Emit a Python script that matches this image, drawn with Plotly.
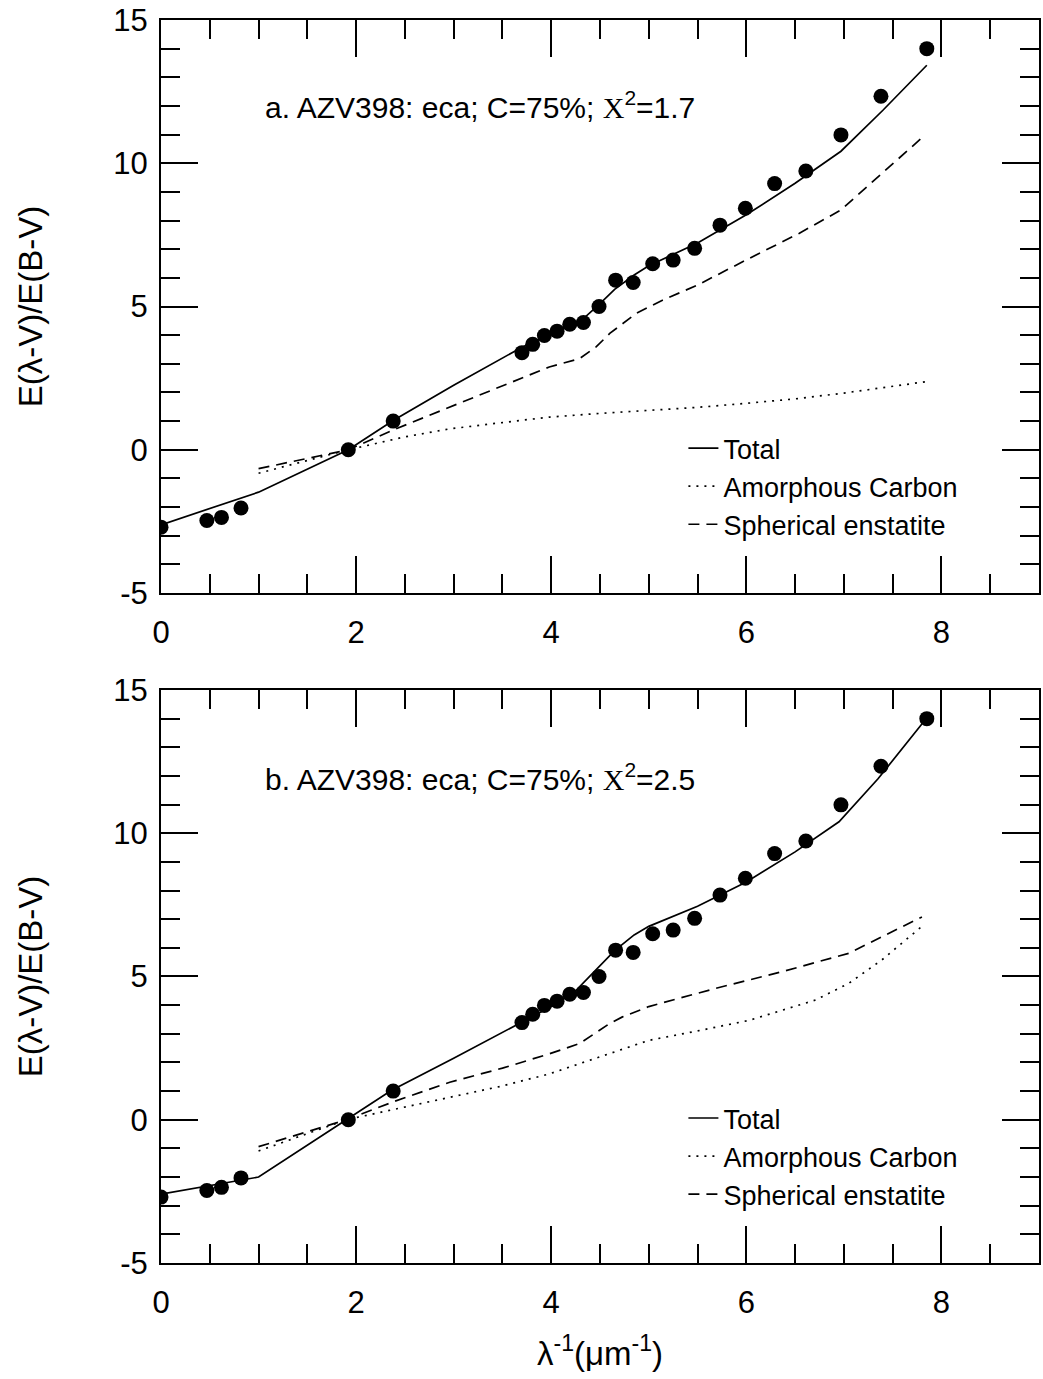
import plotly.graph_objects as go

# Observed extinction curve of AZV398 (same data in both panels)
obs_x = [0.0, 0.47, 0.62, 0.82, 1.92, 2.38, 3.70, 3.81, 3.93, 4.06, 4.19, 4.33, 4.49,
         4.66, 4.84, 5.04, 5.25, 5.47, 5.73, 5.99, 6.29, 6.61, 6.97, 7.38, 7.85]
obs_y = [-2.70, -2.47, -2.36, -2.03, 0.0, 1.0, 3.39, 3.68, 3.99, 4.14, 4.38, 4.44, 5.0,
         5.92, 5.84, 6.49, 6.62, 7.03, 7.84, 8.43, 9.29, 9.73, 10.99, 12.34, 14.0]

# Panel a model (chi^2 = 1.7)
a_total_x = [0.0, 1.0, 1.92, 2.38, 3.0, 3.7, 4.0, 4.33, 4.5, 4.65, 4.85, 5.0, 5.5, 6.0,
             6.5, 6.97, 7.4, 7.85]
a_total_y = [-2.62, -1.48, 0.0, 1.02, 2.25, 3.58, 4.05, 4.58, 5.1, 5.6, 6.1, 6.42, 7.22,
             8.2, 9.3, 10.42, 11.85, 13.42]
a_carbon_x = [1.0, 1.92, 2.5, 2.96, 3.5, 3.98, 4.5, 5.0, 5.5, 6.0, 6.54, 7.0, 7.5, 7.85]
a_carbon_y = [-0.82, 0.0, 0.45, 0.73, 0.95, 1.14, 1.27, 1.38, 1.48, 1.62, 1.79, 1.98, 2.2, 2.38]
a_enst_x = [1.0, 1.92, 2.4, 3.0, 3.64, 3.98, 4.29, 4.46, 4.6, 4.87, 5.14, 5.5, 6.03, 6.54,
            6.97, 7.82]
a_enst_y = [-0.66, 0.0, 0.72, 1.55, 2.42, 2.89, 3.18, 3.59, 4.06, 4.76, 5.22, 5.75, 6.68,
            7.55, 8.37, 10.95]

# Panel b model (chi^2 = 2.5)
b_total_x = [0.0, 1.0, 1.9, 2.36, 3.0, 3.67, 4.0, 4.25, 4.45, 4.65, 4.85, 5.0, 5.5, 6.0,
             6.5, 6.95, 7.35, 7.82]
b_total_y = [-2.6, -2.0, 0.0, 1.02, 2.15, 3.37, 3.95, 4.5, 5.2, 5.9, 6.45, 6.75, 7.45, 8.3,
             9.35, 10.4, 11.9, 13.9]
b_carbon_x = [1.0, 1.9, 2.4, 2.96, 3.5, 3.98, 4.5, 5.0, 5.5, 6.03, 6.71, 7.05, 7.39, 7.8]
b_carbon_y = [-1.09, 0.0, 0.37, 0.78, 1.18, 1.6, 2.2, 2.77, 3.1, 3.47, 4.18, 4.76, 5.58, 6.75]
b_enst_x = [1.0, 1.9, 2.4, 2.96, 3.5, 3.98, 4.29, 4.6, 4.73, 5.0, 5.69, 6.37, 7.05, 7.8]
b_enst_y = [-0.94, 0.0, 0.65, 1.31, 1.8, 2.3, 2.66, 3.36, 3.59, 3.95, 4.59, 5.17, 5.81, 7.08]

x_ticks = [0, 2, 4, 6, 8]
y_ticks = [-5, 0, 5, 10, 15]
y_ticktext = ["-5", "0", "5", "10", "15"]

panel_labels = [
    "a. AZV398: eca; C=75%; <span style='font-family:\"Liberation Serif\"'>X</span><sup>2</sup>=1.7",
    "b. AZV398: eca; C=75%; <span style='font-family:\"Liberation Serif\"'>X</span><sup>2</sup>=2.5",
]

FONT = "Liberation Sans, Arial, Helvetica, sans-serif"
DOT = "2px,6px"
DASH = "11px,7px"
LW = 1.7

fig = go.Figure()

panels = [
    ("x", "y", "legend", a_total_x, a_total_y, a_carbon_x, a_carbon_y, a_enst_x, a_enst_y),
    ("x2", "y2", "legend2", b_total_x, b_total_y, b_carbon_x, b_carbon_y, b_enst_x, b_enst_y),
]

for xa, ya, leg, tx, ty, cx, cy, ex, ey in panels:
    fig.add_trace(go.Scatter(x=obs_x, y=obs_y, mode="markers", xaxis=xa, yaxis=ya,
                             marker=dict(color="black", size=15), showlegend=False))
    fig.add_trace(go.Scatter(x=tx, y=ty, mode="lines", name="Total", legend=leg,
                             xaxis=xa, yaxis=ya, line=dict(color="black", width=LW)))
    fig.add_trace(go.Scatter(x=cx, y=cy, mode="lines", name="Amorphous Carbon", legend=leg,
                             xaxis=xa, yaxis=ya,
                             line=dict(color="black", width=LW, dash=DOT)))
    fig.add_trace(go.Scatter(x=ex, y=ey, mode="lines", name="Spherical enstatite", legend=leg,
                             xaxis=xa, yaxis=ya,
                             line=dict(color="black", width=LW, dash=DASH)))

xaxis_style = dict(
    range=[0, 9], tickvals=x_ticks, ticks="inside", ticklen=37, tickwidth=1.5,
    tickcolor="black", showline=True, linewidth=2, linecolor="black", mirror="allticks",
    showgrid=False, zeroline=False, tickfont=dict(size=31, color="black", family=FONT),
    ticklabelstandoff=11,
    minor=dict(ticks="inside", ticklen=19, dtick=0.5, tickwidth=1.5, tickcolor="black",
               showgrid=False),
)
yaxis_style = dict(
    range=[-5, 15], tickvals=y_ticks, ticktext=y_ticktext, ticks="inside", ticklen=37,
    tickwidth=1.5, tickcolor="black", showline=True, linewidth=2, linecolor="black",
    mirror="allticks", showgrid=False, zeroline=False,
    tickfont=dict(size=31, color="black", family=FONT), ticklabelstandoff=5,
    minor=dict(ticks="inside", ticklen=19, dtick=1, tickwidth=1.5, tickcolor="black",
               showgrid=False),
    title=dict(text="E(λ-V)/E(B-V)", font=dict(size=33, color="black", family=FONT),
               standoff=61),
)

legend_style = dict(
    x=0.595, xanchor="left", yanchor="top", bgcolor="rgba(0,0,0,0)", borderwidth=0,
    font=dict(size=27, color="black", family=FONT), tracegroupgap=0,
)

fig.update_layout(
    width=1043, height=1379,
    margin=dict(l=161, r=2, t=20, b=116),
    paper_bgcolor="white", plot_bgcolor="white",
    font=dict(family=FONT, color="black"),
    xaxis=dict(**xaxis_style, anchor="y", domain=[0, 1]),
    yaxis=dict(**yaxis_style, anchor="x", domain=[0.539, 1]),
    xaxis2=dict(**xaxis_style, anchor="y2", domain=[0, 1],
                title=dict(text="λ<sup>-1</sup>(μm<sup>-1</sup>)",
                           font=dict(size=33, color="black", family=FONT), standoff=23)),
    yaxis2=dict(**yaxis_style, anchor="x2", domain=[0, 0.461]),
    legend=dict(**legend_style, y=0.675),
    legend2=dict(**legend_style, y=0.136),
    showlegend=True,
    annotations=[
        dict(text=panel_labels[0], xref="x domain", yref="y domain", x=0.116, y=0.852,
             xanchor="left", yanchor="middle", showarrow=False,
             font=dict(size=30, color="black", family=FONT)),
        dict(text=panel_labels[1], xref="x2 domain", yref="y2 domain", x=0.116, y=0.848,
             xanchor="left", yanchor="middle", showarrow=False,
             font=dict(size=30, color="black", family=FONT)),
    ],
)

fig.write_html("out.html")
